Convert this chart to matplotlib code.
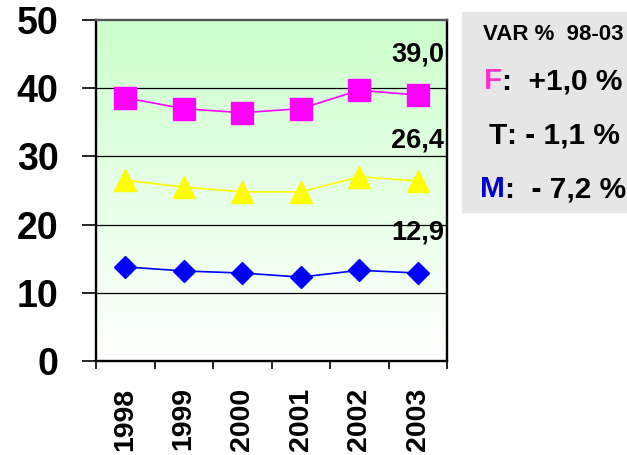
import numpy as np
import matplotlib
matplotlib.use("Agg")
import matplotlib.pyplot as plt
from matplotlib.ticker import FixedLocator

plt.rcParams['font.family'] = ['Liberation Sans', 'DejaVu Sans']
plt.rcParams['font.weight'] = 'bold'

# data
years = ['1998', '1999', '2000', '2001', '2002', '2003']
f_vals = [38.6, 37.0, 36.4, 37.0, 39.7, 39.0]
t_vals = [26.5, 25.5, 24.8, 24.8, 27.0, 26.4]
m_vals = [13.8, 13.2, 12.9, 12.3, 13.3, 12.9]

var_title = 'VAR %  98-03'
var_keys = ['F', 'T', 'M']
var_texts = [':  +1,0 %', ': - 1,1 %', ':  - 7,2 %']
var_colors = ['#ff33cc', 'black', '#0000cc']

fig = plt.figure(figsize=(6.27, 4.55), dpi=100)
ax = fig.add_axes([96 / 627, 94 / 455, 351 / 627, 341 / 455])

x = np.arange(len(years))
ax.set_xlim(-0.5, len(years) - 0.5)
ax.set_ylim(0, 50)

# green-to-white background
grad = np.linspace(0, 1, 256).reshape(-1, 1)
top = np.array([0.80, 1.0, 0.80])
bot = np.array([1.0, 1.0, 1.0])
img = bot + (top - bot) * grad[:, :, None]
ax.imshow(img, extent=[0, 1, 0, 1], transform=ax.transAxes,
          aspect='auto', origin='lower', zorder=0)

for yv in [10, 20, 30, 40]:
    ax.axhline(yv, color='black', lw=0.9, zorder=1)

ax.plot(x, f_vals, color='#ff00ff', lw=1.2, marker='s', ms=16, zorder=3)
ax.plot(x, t_vals, color='#ffff00', lw=1.2, marker='^', ms=16, zorder=3)
ax.plot(x, m_vals, color='#0000ff', lw=1.2, marker='D', ms=11, zorder=3)

# end-value labels
for vals in (f_vals, t_vals, m_vals):
    ax.annotate(f'{vals[-1]:.1f}'.replace('.', ','), (x[-1], vals[-1]),
                xytext=(19, 29), textcoords='offset points',
                ha='right', va='center', fontsize=19.5, fontweight='bold')

ax.set_yticks([0, 10, 20, 30, 40, 50])
ax.tick_params(axis='y', length=10, width=1.2, direction='out', pad=17,
               labelsize=27)
ax.set_xticks(x)
ax.set_xticklabels(years, rotation=90, fontsize=20.5, fontweight='bold')
ax.tick_params(axis='x', which='major', length=0, pad=19)
ax.xaxis.set_minor_locator(FixedLocator(np.arange(-0.5, len(years), 1.0)))
ax.tick_params(axis='x', which='minor', length=6, width=1.2, direction='out')
for lbl in ax.get_yticklabels():
    lbl.set_fontweight('bold')

for side in ['left', 'bottom', 'right']:
    ax.spines[side].set_linewidth(1.7)
    ax.spines[side].set_color('black')
ax.spines['top'].set_linewidth(1.7)
ax.spines['top'].set_color('#555555')

# variation box
fig.patches.append(plt.Rectangle((462 / 627, 1 - 212 / 455), 165 / 627, 200 / 455,
                                 transform=fig.transFigure, color='#e6e6e6', zorder=0))
cx = 553 / 627
fig.text(cx, 1 - 34.5 / 455, var_title, ha='center', va='center',
         fontsize=16, fontweight='bold')
renderer = fig.canvas.get_renderer()
rows_y = [81, 136, 189]
for key, txt, col, yy in zip(var_keys, var_texts, var_colors, rows_y):
    # measure the whole row so it can be centred, then draw it in two parts
    probe = fig.text(cx, 1 - yy / 455, key + txt, ha='center', va='center',
                     fontsize=21.5, fontweight='bold')
    x0 = probe.get_window_extent(renderer=renderer).x0
    probe.remove()
    k = fig.text(x0 / 627, 1 - yy / 455, key, ha='left', va='center',
                 fontsize=21.5, fontweight='bold', color=col)
    kb = k.get_window_extent(renderer=renderer)
    fig.text(kb.x1 / 627, 1 - yy / 455, txt, ha='left', va='center',
             fontsize=21.5, fontweight='bold', color='black')

fig.savefig('out.png', dpi=100)
